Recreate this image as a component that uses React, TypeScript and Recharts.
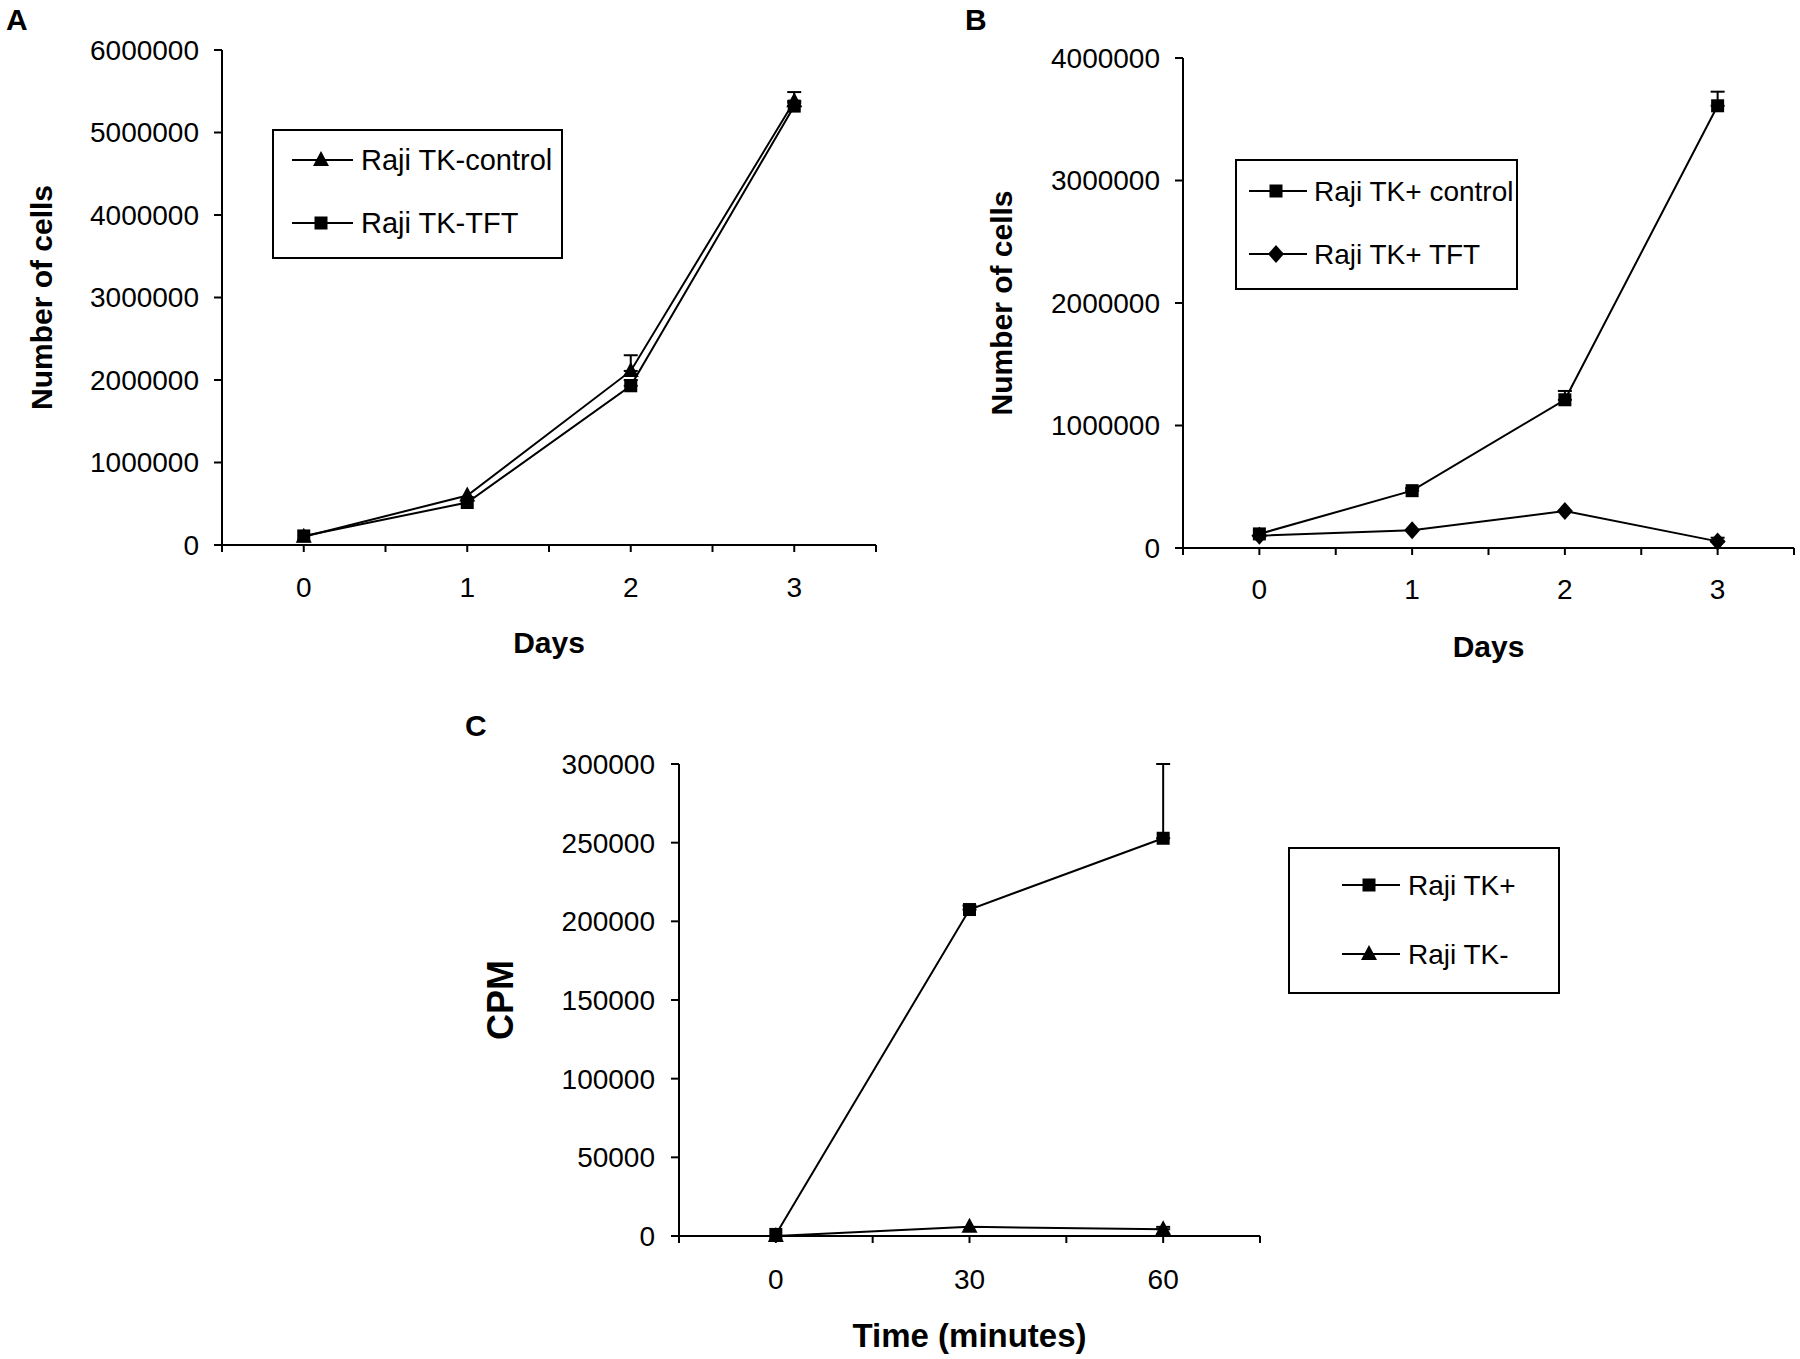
import React from 'react'
import { LineChart, Line, XAxis, YAxis, ErrorBar, Legend } from 'recharts'

const FONT = '"Liberation Sans", Arial, Helvetica, sans-serif'

// Panel A – Raji TK- cells
const daysA = [0, 1, 2, 3]
const tkControlA = [100000, 600000, 2110000, 5380000]
const tkControlAErr = [null, null, 190000, 110000]
const tkTftA = [110000, 515000, 1930000, 5320000]
const tkTftAErr = [null, null, 70000, 40000]
const cellTicksA = [0, 1000000, 2000000, 3000000, 4000000, 5000000, 6000000]

// Panel B – Raji TK+ cells
const daysB = [0, 1, 2, 3]
const tkPlusControlB = [115000, 468000, 1210000, 3610000]
const tkPlusControlBErr = [null, 20000, 72000, 115000]
const tkPlusTftB = [100000, 145000, 302000, 54000]
const tkPlusTftBErr = [null, null, null, 30000]
const cellTicksB = [0, 1000000, 2000000, 3000000, 4000000]

// shared day axis: categories sit half a step inside the axis ends
const dayTicks = [-0.5, 0, 0.5, 1, 1.5, 2, 2.5, 3, 3.5]

// Panel C – thymidine uptake
const minutesC = [0, 30, 60]
const tkPlusC = [1000, 207500, 252800]
const tkPlusCErr = [null, 2500, 47200]
const tkMinusC = [0, 5800, 4300]
const tkMinusCErr = [null, null, 1500]
const cpmTicks = [0, 50000, 100000, 150000, 200000, 250000, 300000]
const minuteTicks = [-15, 0, 15, 30, 45, 60, 75]

type Shape = 'square' | 'triangle' | 'diamond'

const err = (v: number | null) => (v == null ? null : [0, v])

const dataA = daysA.map((d, i) => ({
  day: d,
  control: tkControlA[i],
  controlErr: err(tkControlAErr[i]),
  tft: tkTftA[i],
  tftErr: err(tkTftAErr[i]),
}))

const dataB = daysB.map((d, i) => ({
  day: d,
  control: tkPlusControlB[i],
  controlErr: err(tkPlusControlBErr[i]),
  tft: tkPlusTftB[i],
  tftErr: err(tkPlusTftBErr[i]),
}))

const dataC = minutesC.map((m, i) => ({
  min: m,
  plus: tkPlusC[i],
  plusErr: err(tkPlusCErr[i]),
  minus: tkMinusC[i],
  minusErr: err(tkMinusCErr[i]),
}))

function Marker({ shape, cx, cy }: { shape: Shape; cx: number; cy: number }) {
  if (shape === 'square') {
    return <rect x={cx - 6.5} y={cy - 6.5} width={13} height={13} fill="#000" />
  }
  if (shape === 'triangle') {
    return <path d={`M${cx},${cy - 9}L${cx + 8},${cy + 6}L${cx - 8},${cy + 6}Z`} fill="#000" />
  }
  return <path d={`M${cx},${cy - 9}L${cx + 8},${cy}L${cx},${cy + 9}L${cx - 8},${cy}Z`} fill="#000" />
}

const dotOf = (shape: Shape) =>
  // eslint-disable-next-line @typescript-eslint/no-explicit-any
  (props: any) => <Marker key={`${shape}-${props.index}`} shape={shape} cx={props.cx} cy={props.cy} />

type LegendRow = { name: string; shape: Shape; y: number }

function LegendBox({
  w,
  h,
  x0,
  x1,
  mx,
  tx,
  fontSize = 28,
  rows,
}: {
  w: number
  h: number
  x0: number
  x1: number
  mx: number
  tx: number
  fontSize?: number
  rows: LegendRow[]
}) {
  return (
    <svg width={w} height={h} style={{ display: 'block' }}>
      <rect x={1} y={1} width={w - 2} height={h - 2} fill="#fff" stroke="#000" strokeWidth={2} />
      {rows.map((r) => (
        <g key={r.name}>
          <line x1={x0} x2={x1} y1={r.y} y2={r.y} stroke="#000" strokeWidth={2} />
          <Marker shape={r.shape} cx={mx} cy={r.y} />
          <text x={tx} y={r.y + 10} fontSize={fontSize} fontFamily={FONT} fill="#000">
            {r.name}
          </text>
        </g>
      ))}
    </svg>
  )
}

const tickStyle = { fill: '#000', fontSize: 28, fontFamily: FONT }
const axisStroke = { stroke: '#000', strokeWidth: 2 }
const titleStyle = { fontSize: 30, fontWeight: 'bold', fontFamily: FONT, fill: '#000', textAnchor: 'middle' }

const panelLetter = (left: number, top: number): React.CSSProperties => ({
  position: 'absolute',
  left,
  top,
  fontFamily: FONT,
  fontWeight: 'bold',
  fontSize: 30,
  lineHeight: '30px',
  color: '#000',
})

const dayFmt = (v: number) => (Number.isInteger(v) ? String(v) : '')
const minFmt = (v: number) => (v >= 0 && v <= 60 && v % 30 === 0 ? String(v) : '')

export default function App() {
  return (
    <div
      style={{
        position: 'absolute',
        left: 0,
        top: 0,
        width: 1800,
        height: 1359,
        overflow: 'hidden',
        background: '#fff',
        fontFamily: FONT,
      }}
    >
      <div style={panelLetter(6, 5)}>A</div>
      <div style={panelLetter(965, 5)}>B</div>
      <div style={panelLetter(465, 711)}>C</div>

      {/* Panel A */}
      <div style={{ position: 'absolute', left: 0, top: 0 }}>
        <LineChart width={900} height={680} data={dataA} margin={{ top: 50, right: 24, left: 0, bottom: 0 }}>
          <XAxis
            dataKey="day"
            type="number"
            domain={[-0.5, 3.5]}
            ticks={dayTicks}
            interval={0}
            tickFormatter={dayFmt}
            height={135}
            tickSize={7}
            tickMargin={25}
            tick={tickStyle}
            axisLine={axisStroke}
            tickLine={axisStroke}
            label={{ value: 'Days', position: 'insideBottom', offset: 27, style: titleStyle }}
          />
          <YAxis
            type="number"
            domain={[0, 6000000]}
            ticks={cellTicksA}
            interval={0}
            width={222}
            tickSize={8}
            tickMargin={15}
            tick={tickStyle}
            axisLine={axisStroke}
            tickLine={axisStroke}
            label={{ value: 'Number of cells', angle: -90, position: 'insideLeft', offset: 41, style: titleStyle }}
          />
          <Legend
            layout="horizontal"
            verticalAlign="middle"
            align="center"
            wrapperStyle={{ left: 272, top: 129, width: 291, height: 130 }}
            content={() => (
              <LegendBox
                w={291}
                h={130}
                x0={20}
                x1={81}
                mx={49}
                tx={89}
                fontSize={29}
                rows={[
                  { name: 'Raji TK-control', shape: 'triangle', y: 31 },
                  { name: 'Raji TK-TFT', shape: 'square', y: 94 },
                ]}
              />
            )}
          />
          <Line
            dataKey="control"
            name="Raji TK-control"
            stroke="#000"
            strokeWidth={2}
            dot={dotOf('triangle')}
            activeDot={false}
            isAnimationActive={false}
          >
            <ErrorBar dataKey="controlErr" direction="y" width={7} stroke="#000" strokeWidth={2} isAnimationActive={false} />
          </Line>
          <Line
            dataKey="tft"
            name="Raji TK-TFT"
            stroke="#000"
            strokeWidth={2}
            dot={dotOf('square')}
            activeDot={false}
            isAnimationActive={false}
          >
            <ErrorBar dataKey="tftErr" direction="y" width={7} stroke="#000" strokeWidth={2} isAnimationActive={false} />
          </Line>
        </LineChart>
      </div>

      {/* Panel B */}
      <div style={{ position: 'absolute', left: 960, top: 0 }}>
        <LineChart width={840} height={680} data={dataB} margin={{ top: 58, right: 6, left: 0, bottom: 0 }}>
          <XAxis
            dataKey="day"
            type="number"
            domain={[-0.5, 3.5]}
            ticks={dayTicks}
            interval={0}
            tickFormatter={dayFmt}
            height={132}
            tickSize={7}
            tickMargin={24}
            tick={tickStyle}
            axisLine={axisStroke}
            tickLine={axisStroke}
            label={{ value: 'Days', position: 'insideBottom', offset: 23, style: titleStyle }}
          />
          <YAxis
            type="number"
            domain={[0, 4000000]}
            ticks={cellTicksB}
            interval={0}
            width={223}
            tickSize={8}
            tickMargin={15}
            tick={tickStyle}
            axisLine={axisStroke}
            tickLine={axisStroke}
            label={{ value: 'Number of cells', angle: -90, position: 'insideLeft', offset: 41, style: titleStyle }}
          />
          <Legend
            layout="horizontal"
            verticalAlign="middle"
            align="center"
            wrapperStyle={{ left: 275, top: 159, width: 283, height: 131 }}
            content={() => (
              <LegendBox
                w={283}
                h={131}
                x0={14}
                x1={72}
                mx={41}
                tx={79}
                rows={[
                  { name: 'Raji TK+ control', shape: 'square', y: 32 },
                  { name: 'Raji TK+ TFT', shape: 'diamond', y: 95 },
                ]}
              />
            )}
          />
          <Line
            dataKey="control"
            name="Raji TK+ control"
            stroke="#000"
            strokeWidth={2}
            dot={dotOf('square')}
            activeDot={false}
            isAnimationActive={false}
          >
            <ErrorBar dataKey="controlErr" direction="y" width={7} stroke="#000" strokeWidth={2} isAnimationActive={false} />
          </Line>
          <Line
            dataKey="tft"
            name="Raji TK+ TFT"
            stroke="#000"
            strokeWidth={2}
            dot={dotOf('diamond')}
            activeDot={false}
            isAnimationActive={false}
          >
            <ErrorBar dataKey="tftErr" direction="y" width={7} stroke="#000" strokeWidth={2} isAnimationActive={false} />
          </Line>
        </LineChart>
      </div>

      {/* Panel C */}
      <div style={{ position: 'absolute', left: 400, top: 700 }}>
        <LineChart width={1180} height={659} data={dataC} margin={{ top: 64, right: 320, left: 0, bottom: 0 }}>
          <XAxis
            dataKey="min"
            type="number"
            domain={[-15, 75]}
            ticks={minuteTicks}
            interval={0}
            tickFormatter={minFmt}
            height={123}
            tickSize={7}
            tickMargin={26}
            tick={tickStyle}
            axisLine={axisStroke}
            tickLine={axisStroke}
            label={{ value: 'Time (minutes)', position: 'insideBottom', offset: 12, style: { ...titleStyle, fontSize: 33 } }}
          />
          <YAxis
            type="number"
            domain={[0, 300000]}
            ticks={cpmTicks}
            interval={0}
            width={279}
            tickSize={8}
            tickMargin={16}
            tick={tickStyle}
            axisLine={axisStroke}
            tickLine={axisStroke}
            label={{ value: 'CPM', angle: -90, position: 'insideLeft', offset: 100, style: { ...titleStyle, fontSize: 36 } }}
          />
          <Legend
            layout="horizontal"
            verticalAlign="middle"
            align="center"
            wrapperStyle={{ left: 888, top: 147, width: 272, height: 147 }}
            content={() => (
              <LegendBox
                w={272}
                h={147}
                x0={54}
                x1={112}
                mx={81}
                tx={120}
                rows={[
                  { name: 'Raji TK+', shape: 'square', y: 38 },
                  { name: 'Raji TK-', shape: 'triangle', y: 107 },
                ]}
              />
            )}
          />
          <Line
            dataKey="plus"
            name="Raji TK+"
            stroke="#000"
            strokeWidth={2}
            dot={dotOf('square')}
            activeDot={false}
            isAnimationActive={false}
          >
            <ErrorBar dataKey="plusErr" direction="y" width={7} stroke="#000" strokeWidth={2} isAnimationActive={false} />
          </Line>
          <Line
            dataKey="minus"
            name="Raji TK-"
            stroke="#000"
            strokeWidth={2}
            dot={dotOf('triangle')}
            activeDot={false}
            isAnimationActive={false}
          >
            <ErrorBar dataKey="minusErr" direction="y" width={7} stroke="#000" strokeWidth={2} isAnimationActive={false} />
          </Line>
        </LineChart>
      </div>
    </div>
  )
}
